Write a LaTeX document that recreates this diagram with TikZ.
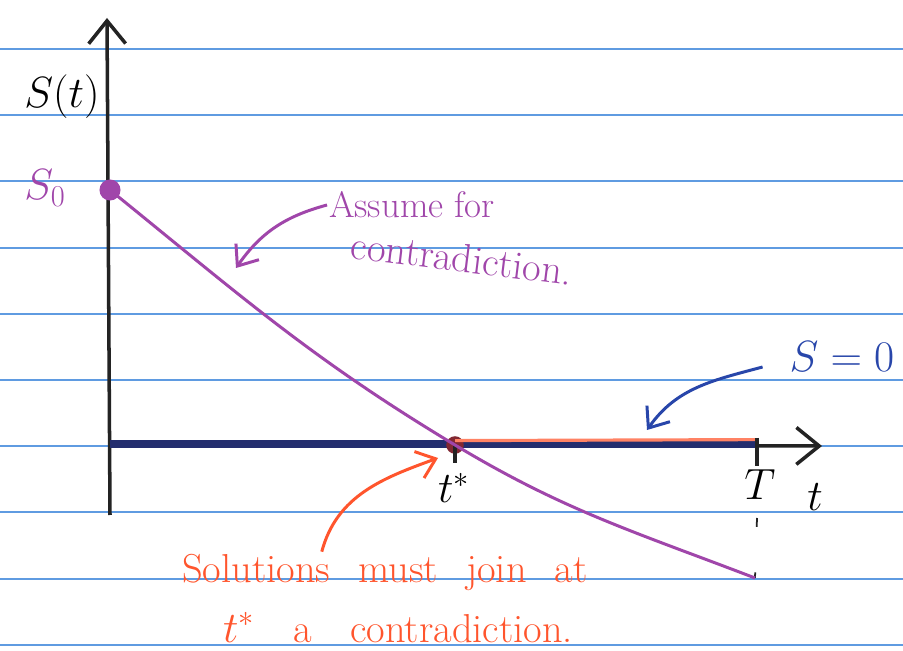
\documentclass[tikz,border=0pt]{standalone}
\usepackage{tikz}
\usetikzlibrary{positioning,arrows.meta}
\definecolor{rulecol}{RGB}{95,155,225}
\definecolor{ink}{RGB}{35,35,35}
\definecolor{plum}{RGB}{160,70,170}
\definecolor{navy}{RGB}{35,45,110}
\definecolor{salmon}{RGB}{255,130,100}
\definecolor{redink}{RGB}{255,85,45}
\definecolor{blueink}{RGB}{40,70,170}
\definecolor{dotred}{RGB}{130,40,50}
\tikzset{
  ruling/.style={draw=rulecol, line width=1.1pt},
  axis/.style={draw=ink, line width=2pt, -{Straight Barb[length=13pt,width=21pt,line width=2pt]}},
  tick/.style={draw=ink, line width=2pt},
  zero/.style={draw=navy, line width=4pt},
  zerohi/.style={draw=salmon, line width=1.8pt},
  sol/.style={draw=plum, line width=1.7pt},
  pt/.style={circle, inner sep=0pt, minimum size=12pt},
  lbl/.style={inner sep=1pt, font=\fontsize{24}{28}\selectfont},
  note/.style={inner sep=1pt, font=\fontsize{21}{24}\selectfont},
  Pe/.style={draw=plum, line width=1.7pt, -{Straight Barb[length=10pt,width=16pt,line width=1.7pt]}},
  Be/.style={draw=blueink, line width=1.7pt, -{Straight Barb[length=10pt,width=16pt,line width=1.7pt]}},
  Oe/.style={draw=redink, line width=1.7pt, -{Straight Barb[length=10pt,width=16pt,line width=1.7pt]}},
  sketch/.style={x=0.02cm, y=-0.02cm}
}

\begin{document}
\begin{tikzpicture}[sketch]
    \useasboundingbox[fill=white] (0,0) rectangle (903,651);
    % lined paper
    \foreach \k in {0,...,9}
      \draw[ruling] (0,49+66.2*\k) -- (903,49+66.2*\k);
    % axes
    \coordinate (ybot) at (110,515);
    \coordinate (ytop) at (107,18);
    \coordinate (o) at (110,444);
    \coordinate (xend) at (822,446);
    \coordinate (tend) at (757,444);
    \coordinate (cend) at (755,578);
    \draw[axis] (ybot) -- (ytop);
    \draw[axis] (o) -- (xend);
    \draw[zero] (o) -- (tend);
    \node[pt, fill=dotred, minimum size=10pt] (tstar) at (455,445) {};
    \draw[zerohi] ([yshift=2.5pt]tstar.center) -- ([yshift=2.5pt]tend);
    \draw[tick] (tstar.center) -- ++(0,18);
    \draw[tick] (tend) ++(0,-6) -- ++(0,28);
    \draw[ink, line width=1pt, dash pattern=on 5pt off 26pt] (757,518) -- (cend);
    % solution from S0
    \node[pt, fill=plum] (s0) at (110,190) {};
    \draw[sol] (s0.center) to[out=-39,in=149] (tstar.center) to[out=-31,in=159] (cend);
    % labels
    \node[lbl] (slab) at (62,97) {$S(t)$};
    \node[lbl, text=plum] (s0lab) at (45,188) {$S_0$};
    \node[lbl] (tslab) at (454,488) {$t^{*}$};
    \node[lbl] (Tlab) at (760,485) {$T$};
    \node[lbl] (tlab) at (815,497) {$t$};
    \node[lbl, text=blueink, font=\fontsize{30}{34}\selectfont] (zlab) at (842,357) {$S=0$};
    \node[note, text=plum] (assume) at (412,205) {Assume for};
    \node[note, text=plum, rotate=-7, font=\fontsize{23}{26}\selectfont] (contra) at (462,258) {contradiction.};
    \node[note, text=redink, font=\fontsize{23}{26}\selectfont] (join) at (385,572) {Solutions\hspace{16pt}must\hspace{16pt}join\hspace{16pt}at};
    \node[note, text=redink, font=\fontsize{23}{26}\selectfont] (join2) at (398,628) {$t^{*}$\hspace{22pt}a\hspace{22pt}contradiction.};
    % pointers
    \coordinate (ptip) at (236,268);
    \coordinate (btip) at (647,430);
    \coordinate (otip) at (438,458);
    \draw[Pe] (assume.west) to[out=195,in=55] (ptip);
    \draw[Be] (zlab.west) ++(-25,10) to[out=195,in=55] (btip);
    \draw[Oe] ([xshift=-36pt]join.north) to[out=75,in=200] (otip);
\end{tikzpicture}
\end{document}
